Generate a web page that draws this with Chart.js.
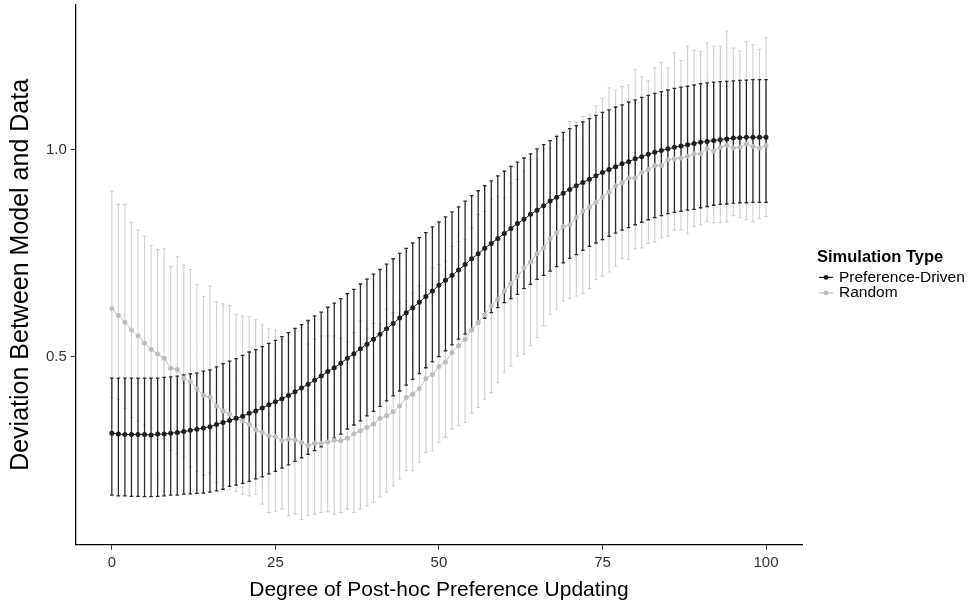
<!DOCTYPE html>
<html>
<head>
<meta charset="utf-8">
<script src="https://cdn.jsdelivr.net/npm/chart.js@4.4.1/dist/chart.umd.min.js"></script>
<style>
  html, body { margin: 0; padding: 0; background: #fff; }
  #wrap { width: 970px; height: 603px; position: relative; }
</style>
</head>
<body>
<div id="wrap"><canvas id="chart" width="970" height="603"></canvas></div>
<script>
const degrees = [
  0, 1, 2, 3, 4, 5, 6, 7, 8, 9, 10, 11, 12, 13, 14, 15, 16, 17, 18, 19,
  20, 21, 22, 23, 24, 25, 26, 27, 28, 29, 30, 31, 32, 33, 34, 35, 36, 37, 38, 39,
  40, 41, 42, 43, 44, 45, 46, 47, 48, 49, 50, 51, 52, 53, 54, 55, 56, 57, 58, 59,
  60, 61, 62, 63, 64, 65, 66, 67, 68, 69, 70, 71, 72, 73, 74, 75, 76, 77, 78, 79,
  80, 81, 82, 83, 84, 85, 86, 87, 88, 89, 90, 91, 92, 93, 94, 95, 96, 97, 98, 99, 100
];

// Preference-Driven
const prefMean = [
  0.316, 0.314, 0.313, 0.313, 0.313, 0.313, 0.312, 0.314, 0.314, 0.316, 0.318, 0.320, 0.323, 0.326, 0.329, 0.332, 0.337, 0.342,
  0.347, 0.352, 0.357, 0.364, 0.370, 0.377, 0.385, 0.392, 0.399, 0.407, 0.416, 0.425, 0.434, 0.444, 0.454, 0.465, 0.474, 0.485,
  0.497, 0.508, 0.520, 0.531, 0.543, 0.555, 0.568, 0.581, 0.594, 0.607, 0.619, 0.632, 0.646, 0.659, 0.673, 0.685, 0.697, 0.710,
  0.723, 0.737, 0.749, 0.762, 0.774, 0.786, 0.798, 0.810, 0.822, 0.832, 0.844, 0.854, 0.865, 0.876, 0.885, 0.895, 0.904, 0.913,
  0.921, 0.929, 0.937, 0.945, 0.952, 0.959, 0.966, 0.971, 0.978, 0.983, 0.989, 0.994, 0.998, 1.002, 1.006, 1.009, 1.012, 1.015,
  1.018, 1.020, 1.022, 1.024, 1.026, 1.028, 1.029, 1.030, 1.030, 1.030, 1.030
];
const prefHigh = [
  0.449, 0.449, 0.449, 0.449, 0.449, 0.449, 0.449, 0.449, 0.451, 0.452, 0.454, 0.457, 0.459, 0.461, 0.466, 0.469, 0.476, 0.484,
  0.490, 0.496, 0.504, 0.512, 0.518, 0.525, 0.533, 0.540, 0.549, 0.559, 0.569, 0.578, 0.588, 0.599, 0.608, 0.620, 0.630, 0.641,
  0.653, 0.663, 0.676, 0.688, 0.700, 0.711, 0.724, 0.737, 0.750, 0.762, 0.775, 0.788, 0.800, 0.814, 0.826, 0.838, 0.850, 0.862,
  0.876, 0.889, 0.901, 0.913, 0.925, 0.937, 0.948, 0.960, 0.970, 0.980, 0.990, 1.002, 1.012, 1.022, 1.032, 1.042, 1.051, 1.058,
  1.067, 1.075, 1.083, 1.090, 1.096, 1.103, 1.108, 1.115, 1.120, 1.126, 1.131, 1.136, 1.140, 1.144, 1.148, 1.151, 1.153, 1.156,
  1.159, 1.161, 1.163, 1.164, 1.165, 1.166, 1.167, 1.168, 1.169, 1.169, 1.169
];
const prefLow = [
  0.167, 0.165, 0.165, 0.164, 0.164, 0.163, 0.163, 0.164, 0.165, 0.167, 0.167, 0.169, 0.170, 0.171, 0.172, 0.174, 0.177, 0.181,
  0.188, 0.191, 0.195, 0.200, 0.206, 0.211, 0.218, 0.224, 0.232, 0.240, 0.248, 0.257, 0.265, 0.274, 0.283, 0.293, 0.304, 0.314,
  0.326, 0.336, 0.346, 0.358, 0.369, 0.381, 0.394, 0.406, 0.418, 0.432, 0.446, 0.460, 0.474, 0.488, 0.501, 0.515, 0.529, 0.543,
  0.555, 0.568, 0.580, 0.593, 0.607, 0.619, 0.631, 0.641, 0.651, 0.665, 0.675, 0.687, 0.697, 0.707, 0.718, 0.727, 0.738, 0.747,
  0.757, 0.767, 0.775, 0.783, 0.791, 0.799, 0.806, 0.812, 0.819, 0.825, 0.831, 0.836, 0.841, 0.846, 0.849, 0.851, 0.854, 0.856,
  0.860, 0.863, 0.866, 0.868, 0.869, 0.871, 0.872, 0.872, 0.873, 0.873, 0.873
];

// Random
const randMean = [
  0.617, 0.600, 0.584, 0.565, 0.551, 0.534, 0.518, 0.507, 0.497, 0.473, 0.470, 0.449, 0.441, 0.423, 0.407, 0.403, 0.382, 0.370,
  0.362, 0.352, 0.346, 0.338, 0.324, 0.318, 0.310, 0.308, 0.298, 0.302, 0.300, 0.294, 0.286, 0.292, 0.292, 0.295, 0.299, 0.298,
  0.304, 0.315, 0.322, 0.330, 0.338, 0.352, 0.358, 0.368, 0.382, 0.402, 0.410, 0.424, 0.448, 0.458, 0.477, 0.488, 0.511, 0.527,
  0.543, 0.565, 0.583, 0.602, 0.623, 0.639, 0.659, 0.677, 0.694, 0.715, 0.729, 0.749, 0.763, 0.785, 0.799, 0.815, 0.819, 0.837,
  0.852, 0.862, 0.873, 0.885, 0.898, 0.913, 0.920, 0.932, 0.932, 0.945, 0.952, 0.962, 0.962, 0.976, 0.978, 0.980, 0.984, 0.990,
  0.990, 1.002, 0.996, 1.006, 1.010, 1.004, 1.006, 1.014, 1.008, 1.004, 1.010
];
const randHigh = [
  0.900, 0.868, 0.868, 0.825, 0.806, 0.791, 0.769, 0.759, 0.761, 0.718, 0.742, 0.721, 0.711, 0.675, 0.646, 0.671, 0.633, 0.628,
  0.624, 0.603, 0.599, 0.597, 0.591, 0.577, 0.568, 0.565, 0.543, 0.536, 0.563, 0.571, 0.531, 0.543, 0.551, 0.551, 0.551, 0.545,
  0.536, 0.559, 0.587, 0.568, 0.581, 0.579, 0.615, 0.607, 0.632, 0.635, 0.655, 0.671, 0.655, 0.715, 0.723, 0.731, 0.767, 0.778,
  0.783, 0.812, 0.844, 0.851, 0.881, 0.888, 0.884, 0.920, 0.928, 0.948, 0.976, 0.978, 1.002, 1.004, 1.036, 1.024, 1.068, 1.066,
  1.080, 1.084, 1.106, 1.124, 1.149, 1.144, 1.152, 1.156, 1.194, 1.176, 1.166, 1.198, 1.210, 1.197, 1.234, 1.215, 1.250, 1.240,
  1.237, 1.258, 1.250, 1.250, 1.287, 1.245, 1.238, 1.261, 1.253, 1.242, 1.270
];
const randLow = [
  0.402, 0.398, 0.376, 0.354, 0.346, 0.336, 0.328, 0.302, 0.304, 0.274, 0.266, 0.258, 0.234, 0.224, 0.215, 0.220, 0.198, 0.190,
  0.179, 0.175, 0.169, 0.165, 0.169, 0.145, 0.125, 0.128, 0.133, 0.117, 0.121, 0.108, 0.117, 0.121, 0.125, 0.127, 0.121, 0.125,
  0.133, 0.125, 0.133, 0.141, 0.150, 0.162, 0.174, 0.189, 0.206, 0.226, 0.226, 0.246, 0.270, 0.274, 0.294, 0.306, 0.326, 0.334,
  0.342, 0.364, 0.378, 0.398, 0.414, 0.438, 0.462, 0.478, 0.502, 0.507, 0.527, 0.547, 0.575, 0.603, 0.615, 0.635, 0.641, 0.647,
  0.653, 0.665, 0.687, 0.695, 0.705, 0.719, 0.737, 0.735, 0.761, 0.763, 0.774, 0.777, 0.787, 0.791, 0.806, 0.806, 0.798, 0.814,
  0.819, 0.827, 0.824, 0.824, 0.826, 0.841, 0.836, 0.831, 0.826, 0.834, 0.839
];

const xTicks = [0, 25, 50, 75, 100];
const yTicks = [0.5, 1.0];
const seriesNames = ['Preference-Driven', 'Random'];
const legendTitle = 'Simulation Type';

const FONT = "'Liberation Sans', Arial, sans-serif";
const PREF_COLOR = '#1f1f1f';
const PREF_BAR = '#2b2b2b';
const RAND_COLOR = '#bdbdbd';
const RAND_BAR = '#cfcfcf';

function toPoints(values) {
    return degrees.map((d, i) => ({ x: d, y: values[i] }));
}

// draws vertical error bars with caps, gray series first so black stays on top
const errorBarPlugin = {
    id: 'errorBars',
    beforeDatasetsDraw(chart) {
        const ctx = chart.ctx;
        const xs = chart.scales.x;
        const ys = chart.scales.y;
        [1, 0].forEach(i => {
            const ds = chart.data.datasets[i];
            ctx.save();
            ctx.strokeStyle = ds.barColor;
            ctx.lineWidth = ds.barWidth;
            ctx.beginPath();
            ds.data.forEach((p, j) => {
                const px = xs.getPixelForValue(p.x);
                const top = ys.getPixelForValue(ds.high[j]);
                const bot = ys.getPixelForValue(ds.low[j]);
                ctx.moveTo(px, top);
                ctx.lineTo(px, bot);
                ctx.moveTo(px - 1.8, top);
                ctx.lineTo(px + 1.8, top);
                ctx.moveTo(px - 1.8, bot);
                ctx.lineTo(px + 1.8, bot);
            });
            ctx.stroke();
            ctx.restore();
        });
    }
};

// ggplot-style legend sitting to the right of the panel
const sideLegendPlugin = {
    id: 'sideLegend',
    afterDraw(chart) {
        const ctx = chart.ctx;
        const area = chart.chartArea;
        const left = area.right + 15;
        const midY = (area.top + area.bottom) / 2;
        ctx.save();
        ctx.textBaseline = 'middle';
        ctx.textAlign = 'left';
        ctx.fillStyle = '#000';
        ctx.font = `bold 16.5px ${FONT}`;
        ctx.fillText(legendTitle, left, midY - 17.5);

        ctx.font = `15.5px ${FONT}`;
        chart.data.datasets.forEach((ds, i) => {
            const y = midY + 2.5 + i * 15.5;
            ctx.strokeStyle = ds.borderColor;
            ctx.lineWidth = 1.2;
            ctx.beginPath();
            ctx.moveTo(left + 2, y);
            ctx.lineTo(left + 16, y);
            ctx.stroke();
            ctx.fillStyle = ds.backgroundColor;
            ctx.beginPath();
            ctx.arc(left + 9, y, 2.4, 0, Math.PI * 2);
            ctx.fill();
            ctx.fillStyle = '#000';
            ctx.fillText(ds.label, left + 22, y);
        });
        ctx.restore();
    }
};

const chart = new Chart(document.getElementById('chart'), {
    type: 'line',
    data: {
        datasets: [
            {
                label: seriesNames[0],
                data: toPoints(prefMean),
                high: prefHigh,
                low: prefLow,
                barColor: PREF_BAR,
                barWidth: 1.3,
                borderColor: PREF_COLOR,
                backgroundColor: PREF_COLOR,
                borderWidth: 1,
                pointRadius: 2.5,
                pointBorderWidth: 0,
                tension: 0
            },
            {
                label: seriesNames[1],
                data: toPoints(randMean),
                high: randHigh,
                low: randLow,
                barColor: RAND_BAR,
                barWidth: 1.1,
                borderColor: RAND_COLOR,
                backgroundColor: RAND_COLOR,
                borderWidth: 1,
                pointRadius: 2.5,
                pointBorderWidth: 0,
                tension: 0
            }
        ]
    },
    options: {
        responsive: false,
        animation: false,
        devicePixelRatio: 1,
        layout: { padding: { top: 5, right: 168, bottom: 0, left: 6 } },
        plugins: {
            tooltip: { enabled: false },
            legend: { display: false }
        },
        scales: {
            x: {
                type: 'linear',
                min: -5.5,
                max: 105.5,
                afterBuildTicks: axis => { axis.ticks = xTicks.map(v => ({ value: v })); },
                grid: { display: true, drawOnChartArea: false, drawTicks: true, tickLength: 5, color: '#333' },
                border: { display: true, color: '#000', width: 1.3 },
                ticks: { color: '#333', font: { family: FONT, size: 15 }, padding: 4, maxRotation: 0 },
                title: {
                    display: true,
                    text: 'Degree of Post-hoc Preference Updating',
                    color: '#000',
                    font: { family: FONT, size: 21 },
                    padding: { top: 2, bottom: 0 }
                }
            },
            y: {
                type: 'linear',
                min: 0.047,
                max: 1.349,
                afterBuildTicks: axis => { axis.ticks = yTicks.map(v => ({ value: v })); },
                afterFit: axis => { axis.paddingTop = 0; axis.paddingBottom = 0; },
                grid: { display: true, drawOnChartArea: false, drawTicks: true, tickLength: 5, color: '#333' },
                border: { display: true, color: '#000', width: 1.3 },
                ticks: {
                    color: '#333',
                    font: { family: FONT, size: 15 },
                    padding: 4,
                    callback: v => v.toFixed(1)
                },
                title: {
                    display: true,
                    text: 'Deviation Between Model and Data',
                    color: '#000',
                    font: { family: FONT, size: 25 },
                    padding: { top: 0, bottom: 6 }
                }
            }
        }
    },
    plugins: [errorBarPlugin, sideLegendPlugin]
});
</script>
</body>
</html>
